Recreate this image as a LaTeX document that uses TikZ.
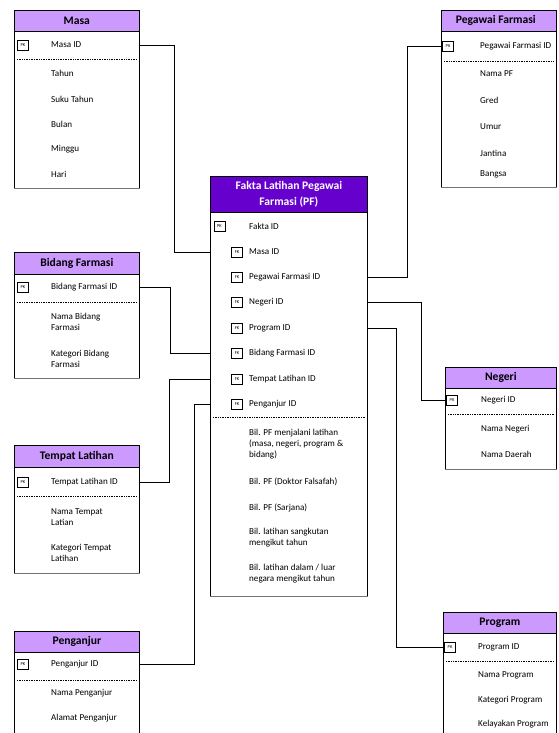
\documentclass[tikz,border=0pt]{standalone}
\usepackage{fontspec}
\setmainfont{Carlito}
\usetikzlibrary{positioning}
\definecolor{hdrlight}{HTML}{CC99FF}
\definecolor{hdrdark}{HTML}{6600CC}

\begin{document}
\begin{tikzpicture}[x=1pt, y=-1pt,
    tbl/.style={draw, line width=0.7pt, anchor=north west, inner sep=0pt},
    hdr/.style={tbl, fill=hdrlight},
    facthdr/.style={tbl, fill=hdrdark},
    ttl/.style={font=\bfseries\fontsize{11.6}{15.5}\selectfont, align=center},
    attr/.style={anchor=west, inner sep=0pt, align=left, font=\fontsize{9.1}{11}\selectfont},
    keybox/.style={draw, line width=0.5pt, minimum width=11pt, minimum height=10pt, inner sep=0pt, font=\fontsize{4.5}{5}\selectfont},
    sep/.style={line width=0.5pt, dash pattern=on 1pt off 0.7pt},
    link/.style={line width=0.7pt},
    shadowline/.style={line width=1.3pt, black!55}
]
\useasboundingbox (0,0) rectangle (558,733);
\clip (0,0) rectangle (558,733);

% Masa
\node[tbl, minimum width=125pt, minimum height=178pt] (masa) at (14,10) {};
\node[hdr, minimum width=125pt, minimum height=21pt] (masahdr) at (14,10) {};
\node[ttl] (masattl) at (masahdr) {Masa};
\node[keybox] (masapk) at (23,45) {PK};
\node[attr] (masaid) at (51,45) {Masa ID};
\draw[sep] (17,59) -- (137,59);
\foreach \t/\y in {Tahun/73, Suku Tahun/99, Bulan/124, Minggu/149, Hari/174}
    \node[attr] (masa-\y) at (51,\y) {\t};

% Pegawai Farmasi
\node[tbl, minimum width=115pt, minimum height=177pt] (peg) at (441,10) {};
\node[hdr, minimum width=115pt, minimum height=21pt] (peghdr) at (441,10) {};
\node[ttl] (pegttl) at ([xshift=-3pt]peghdr.center) {Pegawai Farmasi};
\node[keybox] (pegpk) at (448,46) {PK};
\node[attr] (pegid) at (480,46) {Pegawai Farmasi ID};
\draw[sep] (444,61) -- (554,61);
\foreach \t/\y in {Nama PF/74, Gred/100, Umur/127, Jantina/153, Bangsa/174}
    \node[attr] (peg-\y) at (480,\y) {\t};

% Bidang Farmasi
\node[tbl, minimum width=125pt, minimum height=126pt] (bid) at (14,252) {};
\node[hdr, minimum width=125pt, minimum height=22pt] (bidhdr) at (14,252) {};
\node[ttl] (bidttl) at (bidhdr) {Bidang Farmasi};
\node[keybox] (bidpk) at (23,287) {PK};
\node[attr] (bidid) at (51,287) {Bidang Farmasi ID};
\draw[sep] (17,302) -- (137,302);
\node[attr] (bidnama) at (51,322) {Nama Bidang\\Farmasi};
\node[attr] (bidkat) at (51,359) {Kategori Bidang\\Farmasi};

% Tempat Latihan
\node[tbl, minimum width=125pt, minimum height=128pt] (temp) at (14,445) {};
\node[hdr, minimum width=125pt, minimum height=22pt] (temphdr) at (14,445) {};
\node[ttl] (tempttl) at (temphdr) {Tempat Latihan};
\node[keybox] (temppk) at (23,482) {PK};
\node[attr] (tempid) at (51,482) {Tempat Latihan ID};
\draw[sep] (17,496) -- (137,496);
\node[attr] (tempnama) at (51,517) {Nama Tempat\\Latian};
\node[attr] (tempkat) at (51,553) {Kategori Tempat\\Latihan};

% Penganjur
\node[tbl, minimum width=125pt, minimum height=130pt] (peng) at (14,631) {};
\node[hdr, minimum width=125pt, minimum height=21pt] (penghdr) at (14,631) {};
\node[ttl] (pengttl) at (penghdr) {Penganjur};
\node[keybox] (pengpk) at (23,664) {PK};
\node[attr] (pengid) at (51,664) {Penganjur ID};
\draw[sep] (17,680) -- (137,680);
\node[attr] (pengnama) at (51,693) {Nama Penganjur};
\node[attr] (pengalamat) at (51,718) {Alamat Penganjur};

% Negeri
\node[tbl, minimum width=111pt, minimum height=102pt] (neg) at (445,367) {};
\node[hdr, minimum width=111pt, minimum height=21pt] (neghdr) at (445,367) {};
\node[ttl] (negttl) at (neghdr) {Negeri};
\node[keybox] (negpk) at (452,400) {PK};
\node[attr] (negid) at (481,400) {Negeri ID};
\draw[sep] (448,414) -- (554,414);
\node[attr] (negnama) at (481,429) {Nama Negeri};
\node[attr] (negdaerah) at (481,454) {Nama Daerah};

% Program
\node[tbl, minimum width=113pt, minimum height=130pt] (prog) at (443,612) {};
\node[hdr, minimum width=113pt, minimum height=21pt] (proghdr) at (443,612) {};
\node[ttl] (progttl) at (proghdr) {Program};
\node[keybox] (progpk) at (450,647) {PK};
\node[attr] (progid) at (478,647) {Program ID};
\draw[sep] (446,661) -- (554,661);
\foreach \t/\y in {Nama Program/675, Kategori Program/700, Kelayakan Program/724}
    \node[attr] (prog-\y) at (478,\y) {\t};

% Fakta (fact table)
\node[tbl, minimum width=157pt, minimum height=420pt] (fact) at (210,176) {};
\node[facthdr, minimum width=157pt, minimum height=36pt] (facthdr) at (210,176) {};
\node[ttl, text=white] (factttl) at (facthdr) {Fakta Latihan Pegawai\\Farmasi (PF)};
\node[keybox] (factpk) at (219.5,226) {PK};
\node[attr] (factid) at (249,226) {Fakta ID};
\foreach \n/\t/\y in {fmasa/Masa ID/252, fpeg/Pegawai Farmasi ID/277, fneg/Negeri ID/302,
        fprog/Program ID/328, fbid/Bidang Farmasi ID/353, ftemp/Tempat Latihan ID/379,
        fpeng/Penganjur ID/404} {
    \node[keybox] (\n-key) at (237,\y) {FK};
    \node[attr] (\n) at (249,\y) {\t};
}
\draw[sep] (213,417) -- (365,417);
\node[attr] (bil1) at (249,444) {Bil. PF menjalani latihan\\(masa, negeri, program \&\\bidang)};
\node[attr] (bil2) at (249,482) {Bil. PF (Doktor Falsafah)};
\node[attr] (bil3) at (249,508) {Bil. PF (Sarjana)};
\node[attr] (bil4) at (249,538) {Bil. latihan sangkutan\\mengikut tahun};
\node[attr] (bil5) at (249,574) {Bil. latihan dalam / luar\\negara mengikut tahun};

% bottom edges
\foreach \b in {masa, peg, bid, temp, neg, fact}
    \draw[shadowline] (\b.south west) -- (\b.south east);

% links
\draw[link] (masaid -| masa.east) -- ++(35,0) |- (fmasa -| fact.west);
\draw[link] (bidid -| bid.east) -- ++(31,0) |- (fbid -| fact.west);
\draw[link] (tempid -| temp.east) -- ++(30,0) |- (ftemp -| fact.west);
\draw[link] (pengid -| peng.east) -- ++(55,0) |- (fpeng -| fact.west);
\draw[link] (fpeg -| fact.east) -- ++(40,0) |- (pegid -| peg.west);
\draw[link] (fneg -| fact.east) -- ++(54,0) |- (negid -| neg.west);
\draw[link] (fprog -| fact.east) -- ++(29,0) |- (progid -| prog.west);
\end{tikzpicture}
\end{document}
